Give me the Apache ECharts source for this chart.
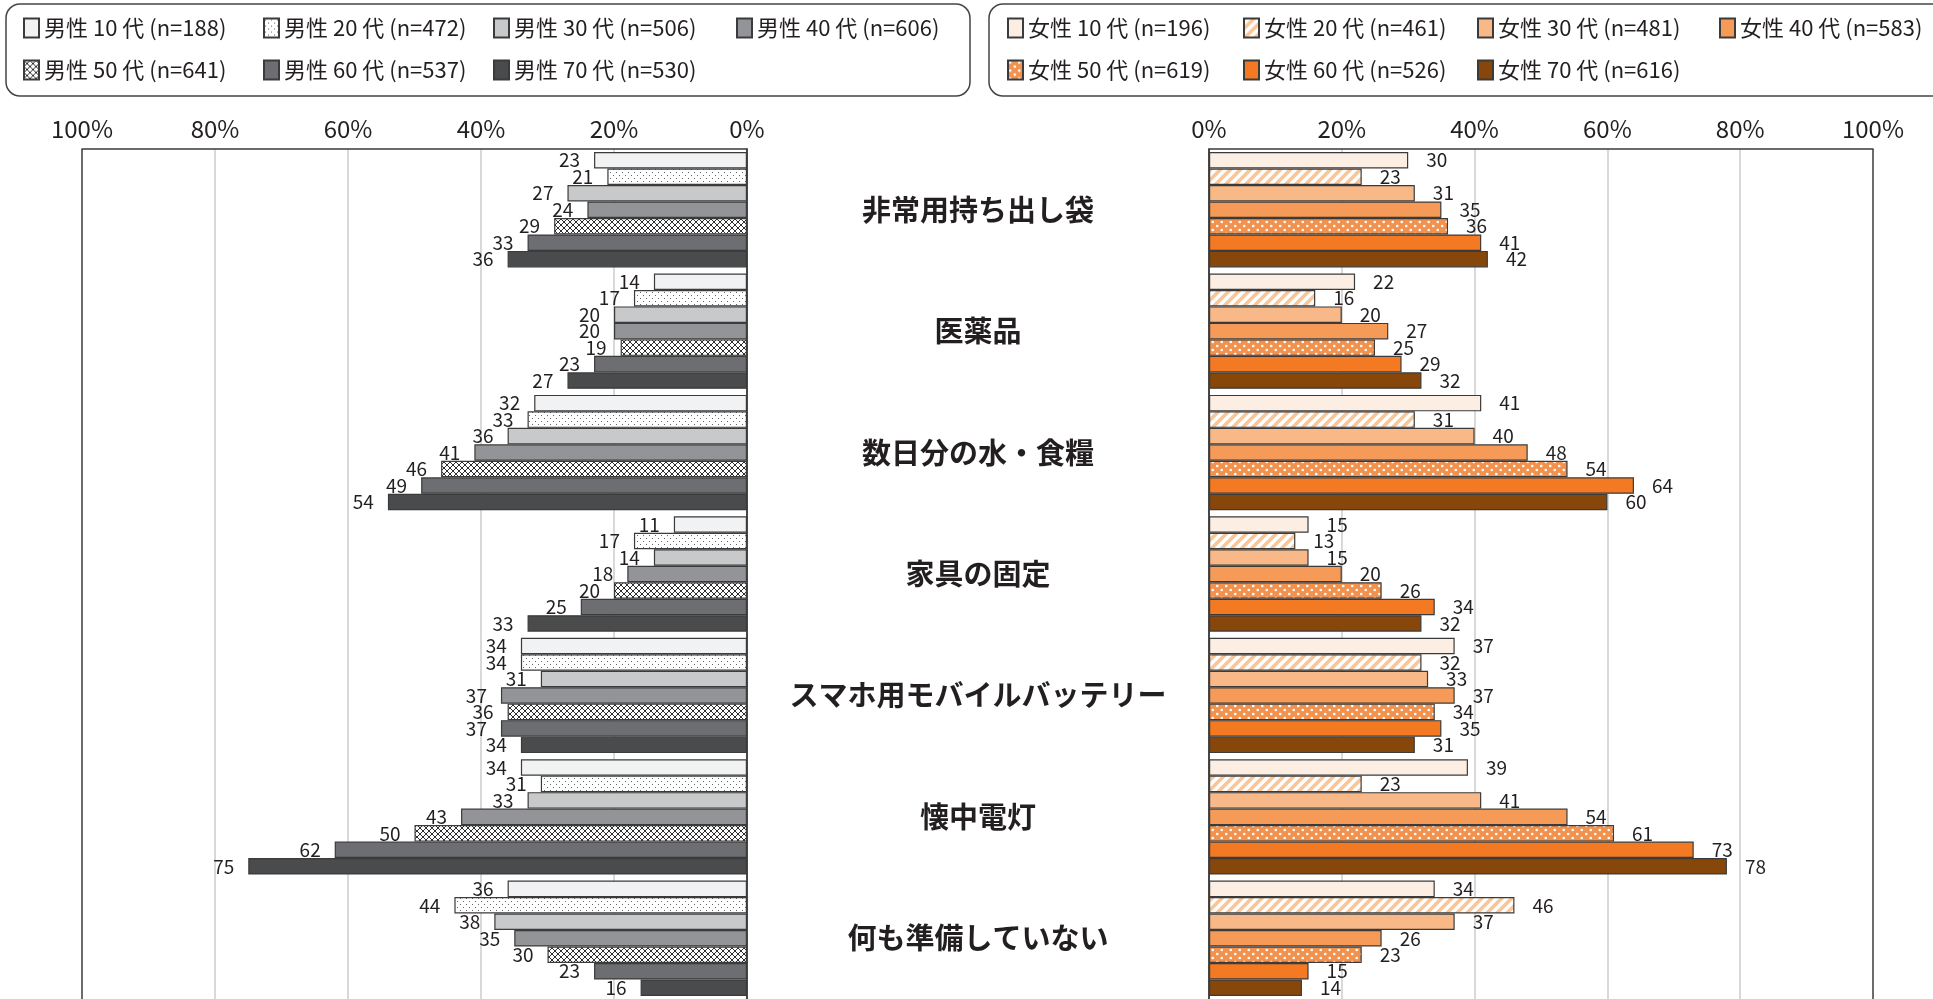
<!DOCTYPE html>
<html>
<head>
<meta charset="utf-8">
<script src="https://cdn.jsdelivr.net/npm/echarts@6/dist/echarts.min.js"></script>
<style>
  html, body { margin: 0; padding: 0; background: #fff; }
  #chart { width: 1933px; height: 999px; }
</style>
</head>
<body>
<div id="chart"></div>
<script>
// ---- data ----
const categories = ['非常用持ち出し袋', '医薬品', '数日分の水・食糧', '家具の固定', 'スマホ用モバイルバッテリー', '懐中電灯', '何も準備していない'];

const maleNames = ['男性 10 代 (n=188)', '男性 20 代 (n=472)', '男性 30 代 (n=506)', '男性 40 代 (n=606)', '男性 50 代 (n=641)', '男性 60 代 (n=537)', '男性 70 代 (n=530)'];
const femaleNames = ['女性 10 代 (n=196)', '女性 20 代 (n=461)', '女性 30 代 (n=481)', '女性 40 代 (n=583)', '女性 50 代 (n=619)', '女性 60 代 (n=526)', '女性 70 代 (n=616)'];

const male10 = [23, 14, 32, 11, 34, 34, 36];
const male20 = [21, 17, 33, 17, 34, 31, 44];
const male30 = [27, 20, 36, 14, 31, 33, 38];
const male40 = [24, 20, 41, 18, 37, 43, 35];
const male50 = [29, 19, 46, 20, 36, 50, 30];
const male60 = [33, 23, 49, 25, 37, 62, 23];
const male70 = [36, 27, 54, 33, 34, 75, 16];

const female10 = [30, 22, 41, 15, 37, 39, 34];
const female20 = [23, 16, 31, 13, 32, 23, 46];
const female30 = [31, 20, 40, 15, 33, 41, 37];
const female40 = [35, 27, 48, 20, 37, 54, 26];
const female50 = [36, 25, 54, 26, 34, 61, 23];
const female60 = [41, 29, 64, 34, 35, 73, 15];
const female70 = [42, 32, 60, 32, 31, 78, 14];

const percentTicks = { min: 0, max: 100, interval: 20 };

// ---- styling helpers ----
const FONT = '"Noto Sans CJK JP", "Noto Sans", sans-serif';
const TEXT = '#231F20';
const EDGE = '#3b3b3b';

function tile(w, h, draw) {
  const c = document.createElement('canvas');
  c.width = w; c.height = h;
  draw(c.getContext('2d'), w, h);
  return { image: c, repeat: 'repeat' };
}

// sparse staggered dots on white
const dotsGray = tile(6, 6, (g, w, h) => {
  g.fillStyle = '#fff'; g.fillRect(0, 0, w, h);
  g.fillStyle = '#666';
  g.fillRect(1, 1, 1, 1);
  g.fillRect(4, 4, 1, 1);
});
// diamond lattice
const crossHatch = tile(6, 6, (g, w, h) => {
  g.fillStyle = '#fff'; g.fillRect(0, 0, w, h);
  g.strokeStyle = '#2e2e2e'; g.lineWidth = 1;
  g.beginPath();
  g.moveTo(0, 0); g.lineTo(w, h);
  g.moveTo(w, 0); g.lineTo(0, h);
  g.stroke();
});
// light orange diagonal stripes on white
const stripesOrange = tile(10, 10, (g, w, h) => {
  g.fillStyle = '#fff'; g.fillRect(0, 0, w, h);
  g.strokeStyle = '#FCC595'; g.lineWidth = 3.6;
  g.beginPath();
  g.moveTo(-5, 5); g.lineTo(5, -5);
  g.moveTo(0, 10); g.lineTo(10, 0);
  g.moveTo(5, 15); g.lineTo(15, 5);
  g.stroke();
});
// white dots on orange
const dotsOrange = tile(9, 8, (g, w, h) => {
  g.fillStyle = '#F1924F'; g.fillRect(0, 0, w, h);
  g.fillStyle = '#fff';
  g.beginPath(); g.arc(2.25, 2, 1.3, 0, Math.PI * 2); g.fill();
  g.beginPath(); g.arc(6.75, 6, 1.3, 0, Math.PI * 2); g.fill();
});

const maleFills = ['#F1F2F3', dotsGray, '#C8C9CB', '#939497', crossHatch, '#6D6E71', '#4A4B4D'];
const femaleFills = ['#FDEEE3', stripesOrange, '#F9B887', '#F69A57', dotsOrange, '#F37A22', '#87470B'];

const maleValues = [male10, male20, male30, male40, male50, male60, male70];
const femaleValues = [female10, female20, female30, female40, female50, female60, female70];

function barSeries(name, values, idx, fill, male) {
  return {
    type: 'bar',
    name: name,
    data: values,
    xAxisIndex: idx,
    yAxisIndex: idx,
    barGap: '0%',
    barCategoryGap: '5%',
    itemStyle: { color: fill, borderColor: EDGE, borderWidth: 1.2 },
    label: {
      show: true,
      position: male ? 'left' : 'right',
      distance: male ? 14 : 18,
      fontSize: 19,
      fontFamily: FONT,
      color: TEXT
    },
    emphasis: { disabled: true }
  };
}

function legendColumn(names, left) {
  return {
    data: names,
    left: left,
    top: 17,
    orient: 'vertical',
    padding: 0,
    itemGap: 20,
    itemWidth: 15,
    itemHeight: 19,
    icon: 'rect',
    selectedMode: false,
    textStyle: { fontSize: 22, lineHeight: 19, color: TEXT, fontFamily: FONT }
  };
}

function valueAxis(idx, inverse) {
  return {
    type: 'value',
    gridIndex: idx,
    position: 'top',
    inverse: inverse,
    min: percentTicks.min,
    max: percentTicks.max,
    interval: percentTicks.interval,
    axisLine: { show: true, lineStyle: { color: EDGE, width: 1.5 } },
    axisTick: { show: false },
    axisLabel: { formatter: '{value}%', fontSize: 24, fontFamily: FONT, color: TEXT, margin: 8 },
    splitLine: {
      show: true,
      lineStyle: { color: [EDGE, '#CBCCCD', '#CBCCCD', '#CBCCCD', '#CBCCCD', EDGE], width: 1.5 }
    }
  };
}

const series = [];
maleNames.forEach((n, i) => series.push(barSeries(n, maleValues[i], 0, maleFills[i], true)));
femaleNames.forEach((n, i) => series.push(barSeries(n, femaleValues[i], 1, femaleFills[i], false)));

const option = {
  animation: false,
  backgroundColor: '#fff',
  textStyle: { fontFamily: FONT },
  graphic: [
    { type: 'rect', shape: { x: 6, y: 4, width: 964, height: 92, r: 14 },
      style: { fill: 'none', stroke: '#444', lineWidth: 1.5 }, silent: true, z: -1 },
    { type: 'rect', shape: { x: 989, y: 4, width: 990, height: 92, r: 14 },
      style: { fill: 'none', stroke: '#444', lineWidth: 1.5 }, silent: true, z: -1 }
  ],
  legend: [
    legendColumn([maleNames[0], maleNames[4]], 23),
    legendColumn([maleNames[1], maleNames[5]], 263),
    legendColumn([maleNames[2], maleNames[6]], 493),
    legendColumn([maleNames[3]], 736),
    legendColumn([femaleNames[0], femaleNames[4]], 1007),
    legendColumn([femaleNames[1], femaleNames[5]], 1243),
    legendColumn([femaleNames[2], femaleNames[6]], 1477),
    legendColumn([femaleNames[3]], 1719)
  ],
  grid: [
    { left: 82, right: 1186, top: 149, bottom: 0 },
    { left: 1209, right: 60, top: 149, bottom: 0 }
  ],
  xAxis: [valueAxis(0, true), valueAxis(1, false)],
  yAxis: [
    {
      type: 'category', gridIndex: 0, data: categories, inverse: true, position: 'right',
      axisLine: { show: true, lineStyle: { color: EDGE, width: 1.5 } },
      axisTick: { show: false }, axisLabel: { show: false }, splitLine: { show: false }
    },
    {
      type: 'category', gridIndex: 1, data: categories, inverse: true, position: 'left',
      axisLine: { show: true, lineStyle: { color: EDGE, width: 1.5 } },
      axisTick: { show: false }, splitLine: { show: false },
      axisLabel: {
        show: true, interval: 0, align: 'center', margin: 231,
        fontSize: 29, fontWeight: 'bold', color: TEXT, fontFamily: FONT,
        padding: [6, 0, 0, 0]
      }
    }
  ],
  series: series
};

const chart = echarts.init(document.getElementById('chart'), null, { renderer: 'canvas' });
chart.setOption(option);
</script>
</body>
</html>
